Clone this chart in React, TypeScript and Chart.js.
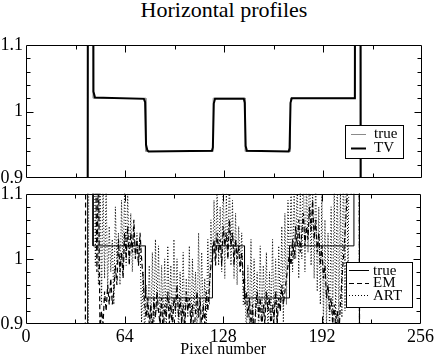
import React, { useEffect, useRef } from "react";
import { Chart, registerables } from "chart.js";
Chart.register(...registerables);

// ---------------- data ----------------
const TITLE = "Horizontal profiles";
const X_LABEL = "Pixel number";
const X_TICKS = [0, 64, 128, 192, 256];
const X_MINOR = [32, 96, 160, 224];
const X_MAJOR_INNER = [64, 128, 192];
const Y_TICKS = [0.9, 1.0, 1.1];
const Y_TICK_LABELS = ["0.9", "1", "1.1"];
const Y_MINOR = [0.92, 0.94, 0.96, 0.98, 1.02, 1.04, 1.06, 1.08];
const Y_MAJOR_INNER = [1.0];

// true profile (piecewise constant)
const TRUE_X = [0, 40, 40, 43.5, 43.5, 77.5, 77.5, 121, 121, 141.8, 141.8, 171, 171, 212.8, 212.8, 216.4, 216.4, 256];
const TRUE_Y = [0, 0, 1.9, 1.9, 1.02, 1.02, 0.94, 0.94, 1.02, 1.02, 0.94, 0.94, 1.02, 1.02, 1.9, 1.9, 0, 0];

// TV reconstruction
const TV_X = [0, 39.6, 40.2, 43.2, 43.6, 44.6, 76.2, 77.0, 77.6, 78.4, 79.2, 120.2, 120.8, 121.4, 122.2, 140.8, 141.4, 142.0, 142.8, 169.8, 170.4, 171.0, 171.8, 212.6, 213.0, 216.0, 216.6, 256];
const TV_Y = [0, 0, 1.9, 1.9, 1.03, 1.021, 1.019, 1.014, 0.95, 0.942, 0.94, 0.941, 0.946, 1.012, 1.019, 1.019, 1.013, 0.948, 0.941, 0.94, 0.945, 1.013, 1.02, 1.02, 1.9, 1.9, 0, 0];

// EM and ART reconstructions, one value per pixel starting at PROFILE_START
const PROFILE_START = 36;
const EM = [
  0, 0, 0.1, 1.6, 1.75, 1.7, 1.5, 1.35, 1.3, 1.2,
  0.98, 1.15, 0.89, 0.92, 0.9, 0.95, 0.92, 0.96, 0.93, 0.97,
  0.93, 0.95, 0.99, 0.96, 1.03, 0.98, 1.01, 0.97, 1.04, 1.0,
  1.05, 0.99, 1.04, 1.01, 1.06, 1.0, 1.03, 0.99, 1.04, 1.0,
  0.97, 0.93, 0.91, 0.94, 0.9, 0.93, 0.89, 0.94, 0.91, 0.95,
  0.92, 0.9, 0.94, 0.88, 0.93, 0.91, 0.95, 0.9, 0.93, 0.89,
  0.94, 0.92, 0.96, 0.91, 0.94, 0.9, 0.93, 0.89, 0.95, 0.92,
  0.94, 0.9, 0.93, 0.88, 0.92, 0.95, 0.91, 0.94, 0.89, 0.93,
  0.9, 0.95, 0.92, 0.96, 0.99, 1.0, 1.03, 0.99, 1.04, 1.01,
  1.03, 0.99, 1.05, 1.02, 1.04, 1.0, 1.06, 1.02, 1.04, 0.99,
  1.03, 1.0, 1.02, 0.98, 1.01, 0.97, 0.93, 0.95, 0.91, 0.94,
  0.9, 0.93, 0.88, 0.92, 0.95, 0.91, 0.94, 0.89, 0.93, 0.9,
  0.95, 0.92, 0.94, 0.89, 0.93, 0.91, 0.95, 0.9, 0.94, 0.92,
  0.96, 0.93, 0.95, 0.97, 0.99, 1.01, 0.99, 1.03, 1.0, 1.05,
  1.02, 1.06, 1.01, 1.04, 1.07, 1.02, 1.05, 1.03, 1.08, 1.04,
  1.09, 1.03, 1.06, 1.01, 1.04, 0.99, 1.02, 0.97, 0.99, 0.94,
  0.96, 0.92, 0.94, 0.9, 0.93, 0.89, 0.92, 0.88, 0.93, 0.97,
  1.0, 1.04, 1.08, 1.15, 1.3, 1.45, 1.6, 1.7, 1.75, 1.7,
  1.5, 0.1, 0, 0, 0,
];
const ART = [
  0, 0, 0, 0, 0.3, 1.5, 1.6, 1.45, 1.3, 0.99,
  1.2, 0.96, 1.16, 0.93, 1.12, 0.97, 1.11, 0.95, 1.05, 0.98,
  1.03, 0.93, 1.08, 0.99, 1.04, 0.96, 1.09, 0.98, 1.11, 0.99,
  1.1, 1.0, 1.07, 0.98, 1.05, 1.0, 1.04, 0.99, 1.03, 0.9,
  0.98, 0.88, 0.96, 0.91, 0.99, 0.89, 1.01, 0.9, 1.03, 0.92,
  1.02, 0.89, 0.99, 0.9, 1.0, 0.88, 1.02, 0.92, 0.99, 0.89,
  1.03, 0.91, 1.0, 0.88, 0.98, 0.9, 1.01, 0.89, 0.97, 0.91,
  1.02, 0.88, 1.0, 0.92, 0.98, 0.89, 1.04, 0.9, 1.01, 0.91,
  0.97, 0.89, 1.03, 0.93, 1.06, 0.98, 1.09, 1.0, 1.11, 0.99,
  1.08, 0.98, 1.12, 0.97, 1.1, 1.0, 1.13, 0.99, 1.09, 0.97,
  1.07, 0.96, 1.05, 0.99, 1.04, 0.93, 0.97, 0.88, 0.99, 0.9,
  1.03, 0.89, 1.0, 0.91, 0.98, 0.88, 1.02, 0.9, 0.99, 0.92,
  1.01, 0.89, 0.98, 0.91, 1.03, 0.9, 1.0, 0.88, 1.02, 0.92,
  1.05, 0.9, 1.07, 0.93, 1.09, 0.97, 1.12, 0.98, 1.1, 1.0,
  1.13, 0.97, 1.11, 1.0, 1.14, 0.98, 1.12, 1.01, 1.15, 0.99,
  1.11, 0.97, 1.13, 0.95, 1.08, 0.93, 1.1, 0.9, 1.06, 0.89,
  1.04, 0.88, 1.08, 0.9, 1.12, 0.89, 1.14, 0.88, 1.11, 0.91,
  1.16, 0.92, 1.2, 0.96, 1.3, 1.1, 1.5, 1.6, 1.55, 1.5,
  1.3, 0.2, 0, 0, 0,
];

// ---------------- helpers ----------------
const FONT = "'Liberation Serif', 'Times New Roman', serif";

const pairs = (xs: number[], ys: number[]) => xs.map((x, i) => ({ x, y: ys[i] }));
const profile = (vals: number[]) => vals.map((y, i) => ({ x: PROFILE_START + i, y }));

const framePlugin = {
  id: "frameTicks",
  afterDatasetsDraw(chart: any, _args: any, opts: any) {
    const { ctx, chartArea: a, scales } = chart;
    const xs = scales.x, ys = scales.y;
    const L = Math.round(a.left) + 0.5, R = Math.round(a.right) - 0.5;
    const T = Math.round(a.top) + 0.5, B = Math.round(a.bottom) - 0.5;
    ctx.save();
    ctx.strokeStyle = "#000";
    ctx.lineWidth = 1;
    ctx.setLineDash([]);
    ctx.beginPath();
    ctx.rect(L, T, R - L, B - T);
    const big = 7, small = 4;
    const xt = (v: number, len: number) => {
      const px = Math.round(xs.getPixelForValue(v)) + 0.5;
      ctx.moveTo(px, B); ctx.lineTo(px, B - len);
      ctx.moveTo(px, T); ctx.lineTo(px, T + len);
    };
    const yt = (v: number, len: number) => {
      const py = Math.round(ys.getPixelForValue(v)) + 0.5;
      ctx.moveTo(L, py); ctx.lineTo(L + len, py);
      ctx.moveTo(R, py); ctx.lineTo(R - len, py);
    };
    X_MINOR.forEach((v) => xt(v, small));
    X_MAJOR_INNER.forEach((v) => xt(v, big));
    Y_MINOR.forEach((v) => yt(v, small));
    Y_MAJOR_INNER.forEach((v) => yt(v, big));
    ctx.stroke();

    // legend
    const lg = opts.legend;
    if (lg) {
      ctx.fillStyle = "#fff";
      ctx.fillRect(lg.x, lg.y, lg.w, lg.h);
      ctx.strokeStyle = "#000";
      ctx.lineWidth = 1;
      ctx.strokeRect(lg.x + 0.5, lg.y + 0.5, lg.w, lg.h);
      ctx.font = `${lg.fontSize}px ${FONT}`;
      ctx.textBaseline = "middle";
      ctx.textAlign = "left";
      chart.data.datasets.forEach((ds: any, i: number) => {
        const y = lg.y + lg.firstRow + i * lg.rowH;
        ctx.beginPath();
        ctx.strokeStyle = ds.borderColor;
        ctx.lineWidth = ds.borderWidth;
        ctx.setLineDash(ds.borderDash || []);
        ctx.moveTo(lg.x + lg.lineX0, Math.round(y) + 0.5);
        ctx.lineTo(lg.x + lg.lineX1, Math.round(y) + 0.5);
        ctx.stroke();
        ctx.setLineDash([]);
        ctx.fillStyle = "#000";
        ctx.fillText(ds.label, lg.x + lg.textX, y + 1);
      });
    }
    ctx.restore();
  },
};

function yScale() {
  return {
    type: "linear",
    min: 0.9,
    max: 1.1,
    afterBuildTicks: (s: any) => { s.ticks = Y_TICKS.map((value) => ({ value })); },
    afterFit: (s: any) => { s.width = 26; },
    grid: { display: false, drawTicks: false },
    border: { display: false },
    ticks: {
      autoSkip: false,
      padding: 3,
      color: "#000",
      font: { family: FONT, size: 18 },
      callback: (_v: any, i: number) => Y_TICK_LABELS[i],
    },
  };
}

function makeChart(canvas: HTMLCanvasElement, datasets: any[], bottom: boolean, legend: any, padding: any) {
  return new Chart(canvas, {
    type: "line",
    data: { datasets },
    plugins: [framePlugin],
    options: {
      animation: false,
      responsive: false,
      devicePixelRatio: 1,
      layout: { padding },
      elements: { point: { radius: 0 }, line: { tension: 0 } },
      plugins: {
        legend: { display: false },
        tooltip: { enabled: false },
        frameTicks: { legend },
      } as any,
      scales: {
        x: {
          type: "linear",
          min: 0,
          max: 256,
          afterBuildTicks: (s: any) => { s.ticks = X_TICKS.map((value) => ({ value })); },
          afterFit: (s: any) => { s.height = bottom ? 34 : 0; },
          grid: { display: false, drawTicks: false },
          border: { display: false },
          ticks: {
            display: bottom,
            autoSkip: false,
            maxRotation: 0,
            padding: 2,
            color: "#000",
            font: { family: FONT, size: 18 },
            callback: (v: any) => String(v),
          },
          title: {
            display: bottom,
            text: X_LABEL,
            color: "#000",
            font: { family: FONT, size: 16, lineHeight: 1 },
            padding: { top: 0, bottom: 0 },
          },
        },
        y: yScale(),
      } as any,
    } as any,
  });
}

export default function App() {
  const topRef = useRef<HTMLCanvasElement>(null);
  const botRef = useRef<HTMLCanvasElement>(null);

  useEffect(() => {
    const top = makeChart(
      topRef.current!,
      [
        { label: "true", data: pairs(TRUE_X, TRUE_Y), borderColor: "#8a8a8a", borderWidth: 1, order: 1 },
        { label: "TV", data: pairs(TV_X, TV_Y), borderColor: "#000", borderWidth: 2, order: 0 },
      ],
      false,
      { x: 345, y: 125, w: 58, h: 33, firstRow: 8.5, rowH: 14, lineX0: 6, lineX1: 21, textX: 29, fontSize: 15 },
      { top: 45, right: 14, bottom: 22, left: 0 }
    );
    const bot = makeChart(
      botRef.current!,
      [
        { label: "true", data: pairs(TRUE_X, TRUE_Y), borderColor: "#000", borderWidth: 1, order: 2 },
        { label: "EM", data: profile(EM), borderColor: "#000", borderWidth: 1.2, borderDash: [5, 3], order: 1 },
        { label: "ART", data: profile(ART), borderColor: "#000", borderWidth: 1, borderDash: [1, 2], order: 0 },
      ],
      true,
      { x: 346, y: 82, w: 66, h: 45, firstRow: 8, rowH: 12.5, lineX0: 3, lineX1: 23, textX: 27, fontSize: 15 },
      { top: 12, right: 14, bottom: 0, left: 0 }
    );
    return () => { top.destroy(); bot.destroy(); };
  }, []);

  return (
    <div style={{ position: "absolute", left: 0, top: 0, width: 436, height: 358, background: "#fff", overflow: "hidden" }}>
      <div
        style={{
          position: "absolute", left: 26, width: 396, top: -1, textAlign: "center",
          fontFamily: FONT, fontSize: 22, lineHeight: "22px", color: "#000",
        }}
      >
        {TITLE}
      </div>
      <canvas ref={topRef} width={436} height={200} style={{ position: "absolute", left: 0, top: 0 }} />
      <canvas ref={botRef} width={436} height={178} style={{ position: "absolute", left: 0, top: 180 }} />
    </div>
  );
}
